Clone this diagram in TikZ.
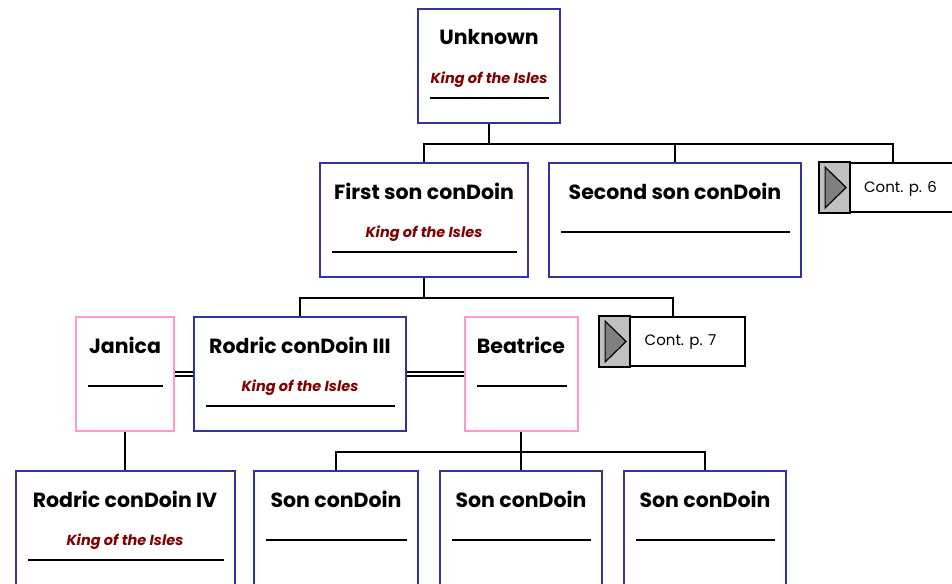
\documentclass[tikz,border=0pt]{standalone}
\usepackage{fontspec}
\setmainfont{Poppins}
\usetikzlibrary{calc}
\definecolor{boxblue}{RGB}{51,51,153}
\definecolor{boxpink}{RGB}{255,153,204}
\definecolor{titlered}{RGB}{128,0,0}
\definecolor{contgray}{RGB}{192,192,192}
\definecolor{arrowgray}{RGB}{128,128,128}
\tikzset{
    kin/.style={draw=boxblue, line width=2pt, minimum height=114pt, inner sep=0pt},
    inlaw/.style={draw=boxpink, line width=2pt, minimum height=114pt, inner sep=0pt},
    nametext/.style={font=\fontsize{20.5}{24}\selectfont\bfseries},
    titletext/.style={font=\fontsize{14.5}{17}\selectfont\bfseries\itshape, text=titlered},
    rule/.style={line width=1.8pt},
    link/.style={line width=2pt},
    marriage/.style={double, double distance=2.6pt, line width=1.5pt},
    contbox/.style={draw, line width=1.8pt, minimum width=145pt, minimum height=49pt, inner sep=0pt}
}
% box with its name; #1 style, #2 node, #3 x, #4 top, #5 width, #6 name
\newcommand{\person}[6]{
    \node[#1, minimum width=#5] (#2) at (#3,#4+57) {};
    \node[nametext] (#2-name) at ($(#2.north)+(0,29)$) {#6};
}
\newcommand{\kingtitle}[1]{
    \node[titletext] (#1-title) at ($(#1.north)+(0,72)$) {King of the Isles};
    \draw[rule] ($(#1.north west)+(13,90)$) -- ($(#1.north east)+(-12,90)$);
}
\newcommand{\rulein}[1]{
    \draw[rule] ($(#1.north west)+(13,70)$) -- ($(#1.north east)+(-12,70)$);
}
\newcommand{\cont}[4]{
    \node[contbox] (#1) at (#2+72.5,#3+24.5) {};
    \filldraw[fill=contgray, line width=1.8pt] (#1.north west) rectangle ($(#1.south west)+(31,0)$);
    \filldraw[fill=arrowgray, line width=1.2pt] ($(#1.north west)+(6,5)$) -- ($(#1.south west)+(6,-5)$) -- ($(#1.west)+(27,0)$) -- cycle;
    \node[font=\fontsize{15}{18}\selectfont] (#1-text) at ($(#1.center)+(8,1)$) {#4};
}

\begin{document}
\begin{tikzpicture}[x=1pt, y=-1pt]
    \useasboundingbox (0,0) rectangle (952,583);
    \clip (0,0) rectangle (952,583);
    % first generation
    \person{kin}{unknown}{489}{9}{142pt}{Unknown}
    \kingtitle{unknown}
    % second generation
    \person{kin}{firstson}{424}{163}{208pt}{First son conDoin}
    \kingtitle{firstson}
    \person{kin}{secondson}{675}{163}{252pt}{Second son conDoin}
    \rulein{secondson}
    \cont{cont6}{820}{163}{Cont. p. 6}
    % third generation
    \person{inlaw}{janica}{125}{317}{98pt}{Janica}
    \rulein{janica}
    \person{kin}{rodric3}{300}{317}{212pt}{Rodric conDoin III}
    \kingtitle{rodric3}
    \person{inlaw}{beatrice}{521}{317}{113pt}{Beatrice}
    \rulein{beatrice}
    \cont{cont7}{600}{317}{Cont. p. 7}
    % fourth generation
    \person{kin}{rodric4}{125}{471}{219pt}{Rodric conDoin IV}
    \kingtitle{rodric4}
    \person{kin}{son1}{336}{471}{164pt}{Son conDoin}
    \rulein{son1}
    \person{kin}{son2}{521}{471}{162pt}{Son conDoin}
    \rulein{son2}
    \person{kin}{son3}{705}{471}{162pt}{Son conDoin}
    \rulein{son3}
    % connectors
    \draw[link] (unknown.south) -- ++(0,20) -| (firstson.north);
    \draw[link] (unknown.south) -- ++(0,20) -| (secondson.north);
    \draw[link] (unknown.south) -- ++(0,20) -| (cont6.north);
    \draw[link] (firstson.south) -- ++(0,20) -| (rodric3.north);
    \draw[link] (firstson.south) -- ++(0,20) -| (cont7.north);
    \draw[marriage] (janica.east) -- (rodric3.west);
    \draw[marriage] (rodric3.east) -- (beatrice.west);
    \draw[link] (janica.south) -- (rodric4.north);
    \draw[link] (beatrice.south) -- ++(0,20) -| (son1.north);
    \draw[link] (beatrice.south) -- ++(0,20) -| (son2.north);
    \draw[link] (beatrice.south) -- ++(0,20) -| (son3.north);
\end{tikzpicture}
\end{document}
